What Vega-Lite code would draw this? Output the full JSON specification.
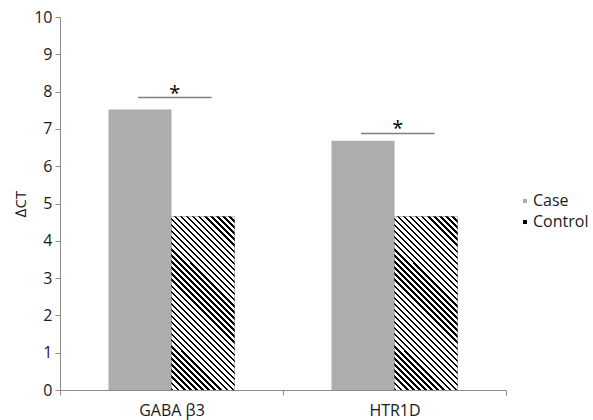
{
  "$schema": "https://vega.github.io/schema/vega-lite/v6.json",
  "width": 446,
  "height": 373,
  "autosize": {"type": "none"},
  "padding": {"left": 60, "top": 17, "right": 87, "bottom": 30},
  "background": "white",
  "config": {
    "view": {"stroke": null},
    "font": "Open Sans",
    "axis": {"grid": false, "domainColor": "#8c8c8c", "tickColor": "#8c8c8c", "labelColor": "#1a1a1a", "labelFont": "Open Sans", "labelFontSize": 16, "titleFont": "Open Sans", "titleFontWeight": "normal", "titleColor": "#1a1a1a", "tickSize": 5},
    "axisX": {"labelAngle": 0, "tickBand": "extent", "labelPadding": 7, "domainWidth": 1.2, "title": null},
    "axisY": {"tickCount": 10, "labelPadding": 3, "titleFontSize": 15, "titlePadding": 5, "labelOverlap": false},
    "legend": {"orient": "none", "legendX": 457, "legendY": 176, "symbolType": "square", "symbolSize": 16, "symbolStrokeWidth": 0, "labelFontSize": 16, "labelColor": "#1a1a1a", "labelOffset": 0, "rowPadding": 5, "padding": 0, "labelFont": "Open Sans"}
  },
  "datasets": {
    "bars": [
      {"gene": "GABA β3", "group": "Case", "dct": 7.52},
      {"gene": "GABA β3", "group": "Control", "dct": 4.65},
      {"gene": "HTR1D", "group": "Case", "dct": 6.68},
      {"gene": "HTR1D", "group": "Control", "dct": 4.65}
    ],
    "sig": [
      {"gene": "GABA β3", "dct": 7.84, "label": "*"},
      {"gene": "HTR1D", "dct": 6.88, "label": "*"}
    ]
  },
  "layer": [
    {
      "data": {"name": "bars"},
      "mark": {"type": "bar"},
      "encoding": {
        "x": {"field": "gene", "type": "nominal", "sort": null, "title": null,
              "scale": {"domain": ["GABA β3", "HTR1D"], "paddingInner": 0, "paddingOuter": 0}},
        "xOffset": {"field": "group", "type": "nominal",
                    "scale": {"domain": ["Case", "Control"], "paddingInner": 0, "paddingOuter": 0.77}},
        "y": {"field": "dct", "type": "quantitative", "title": "∆CT",
              "scale": {"domain": [0, 10], "nice": false}},
        "fill": {"field": "group", "type": "nominal",
                 "scale": {"domain": ["Case", "Control"], "range": ["#adadad", "#000000"]},
                 "legend": {"title": null}}
      }
    },
    {
      "data": {"name": "bars"},
      "transform": [{"filter": "datum.group === 'Control'"}],
      "mark": {"type": "bar", "fill": {"gradient": "linear", "x1": 0, "y1": 1, "x2": 0.4375, "y2": -0.2043, "stops": [
        {"offset":0,"color":"#000"},{"offset":0.01026,"color":"#000"},{"offset":0.01026,"color":"#fff"},{"offset":0.02564,"color":"#fff"},
        {"offset":0.02564,"color":"#000"},{"offset":0.0359,"color":"#000"},{"offset":0.0359,"color":"#fff"},{"offset":0.05128,"color":"#fff"},
        {"offset":0.05128,"color":"#000"},{"offset":0.06154,"color":"#000"},{"offset":0.06154,"color":"#fff"},{"offset":0.07692,"color":"#fff"},
        {"offset":0.07692,"color":"#000"},{"offset":0.08718,"color":"#000"},{"offset":0.08718,"color":"#fff"},{"offset":0.10256,"color":"#fff"},
        {"offset":0.10256,"color":"#000"},{"offset":0.11282,"color":"#000"},{"offset":0.11282,"color":"#fff"},{"offset":0.12821,"color":"#fff"},
        {"offset":0.12821,"color":"#000"},{"offset":0.13846,"color":"#000"},{"offset":0.13846,"color":"#fff"},{"offset":0.15385,"color":"#fff"},
        {"offset":0.15385,"color":"#000"},{"offset":0.1641,"color":"#000"},{"offset":0.1641,"color":"#fff"},{"offset":0.17949,"color":"#fff"},
        {"offset":0.17949,"color":"#000"},{"offset":0.18974,"color":"#000"},{"offset":0.18974,"color":"#fff"},{"offset":0.20513,"color":"#fff"},
        {"offset":0.20513,"color":"#000"},{"offset":0.21538,"color":"#000"},{"offset":0.21538,"color":"#fff"},{"offset":0.23077,"color":"#fff"},
        {"offset":0.23077,"color":"#000"},{"offset":0.24103,"color":"#000"},{"offset":0.24103,"color":"#fff"},{"offset":0.25641,"color":"#fff"},
        {"offset":0.25641,"color":"#000"},{"offset":0.26667,"color":"#000"},{"offset":0.26667,"color":"#fff"},{"offset":0.28205,"color":"#fff"},
        {"offset":0.28205,"color":"#000"},{"offset":0.29231,"color":"#000"},{"offset":0.29231,"color":"#fff"},{"offset":0.30769,"color":"#fff"},
        {"offset":0.30769,"color":"#000"},{"offset":0.31795,"color":"#000"},{"offset":0.31795,"color":"#fff"},{"offset":0.33333,"color":"#fff"},
        {"offset":0.33333,"color":"#000"},{"offset":0.34359,"color":"#000"},{"offset":0.34359,"color":"#fff"},{"offset":0.35897,"color":"#fff"},
        {"offset":0.35897,"color":"#000"},{"offset":0.36923,"color":"#000"},{"offset":0.36923,"color":"#fff"},{"offset":0.38462,"color":"#fff"},
        {"offset":0.38462,"color":"#000"},{"offset":0.39487,"color":"#000"},{"offset":0.39487,"color":"#fff"},{"offset":0.41026,"color":"#fff"},
        {"offset":0.41026,"color":"#000"},{"offset":0.42051,"color":"#000"},{"offset":0.42051,"color":"#fff"},{"offset":0.4359,"color":"#fff"},
        {"offset":0.4359,"color":"#000"},{"offset":0.44615,"color":"#000"},{"offset":0.44615,"color":"#fff"},{"offset":0.46154,"color":"#fff"},
        {"offset":0.46154,"color":"#000"},{"offset":0.4718,"color":"#000"},{"offset":0.4718,"color":"#fff"},{"offset":0.48718,"color":"#fff"},
        {"offset":0.48718,"color":"#000"},{"offset":0.49744,"color":"#000"},{"offset":0.49744,"color":"#fff"},{"offset":0.51282,"color":"#fff"},
        {"offset":0.51282,"color":"#000"},{"offset":0.52308,"color":"#000"},{"offset":0.52308,"color":"#fff"},{"offset":0.53846,"color":"#fff"},
        {"offset":0.53846,"color":"#000"},{"offset":0.54872,"color":"#000"},{"offset":0.54872,"color":"#fff"},{"offset":0.5641,"color":"#fff"},
        {"offset":0.5641,"color":"#000"},{"offset":0.57436,"color":"#000"},{"offset":0.57436,"color":"#fff"},{"offset":0.58974,"color":"#fff"},
        {"offset":0.58974,"color":"#000"},{"offset":0.6,"color":"#000"},{"offset":0.6,"color":"#fff"},{"offset":0.61538,"color":"#fff"},
        {"offset":0.61538,"color":"#000"},{"offset":0.62564,"color":"#000"},{"offset":0.62564,"color":"#fff"},{"offset":0.64103,"color":"#fff"},
        {"offset":0.64103,"color":"#000"},{"offset":0.65128,"color":"#000"},{"offset":0.65128,"color":"#fff"},{"offset":0.66667,"color":"#fff"},
        {"offset":0.66667,"color":"#000"},{"offset":0.67692,"color":"#000"},{"offset":0.67692,"color":"#fff"},{"offset":0.69231,"color":"#fff"},
        {"offset":0.69231,"color":"#000"},{"offset":0.70256,"color":"#000"},{"offset":0.70256,"color":"#fff"},{"offset":0.71795,"color":"#fff"},
        {"offset":0.71795,"color":"#000"},{"offset":0.72821,"color":"#000"},{"offset":0.72821,"color":"#fff"},{"offset":0.74359,"color":"#fff"},
        {"offset":0.74359,"color":"#000"},{"offset":0.75385,"color":"#000"},{"offset":0.75385,"color":"#fff"},{"offset":0.76923,"color":"#fff"},
        {"offset":0.76923,"color":"#000"},{"offset":0.77949,"color":"#000"},{"offset":0.77949,"color":"#fff"},{"offset":0.79487,"color":"#fff"},
        {"offset":0.79487,"color":"#000"},{"offset":0.80513,"color":"#000"},{"offset":0.80513,"color":"#fff"},{"offset":0.82051,"color":"#fff"},
        {"offset":0.82051,"color":"#000"},{"offset":0.83077,"color":"#000"},{"offset":0.83077,"color":"#fff"},{"offset":0.84615,"color":"#fff"},
        {"offset":0.84615,"color":"#000"},{"offset":0.85641,"color":"#000"},{"offset":0.85641,"color":"#fff"},{"offset":0.87179,"color":"#fff"},
        {"offset":0.87179,"color":"#000"},{"offset":0.88205,"color":"#000"},{"offset":0.88205,"color":"#fff"},{"offset":0.89744,"color":"#fff"},
        {"offset":0.89744,"color":"#000"},{"offset":0.90769,"color":"#000"},{"offset":0.90769,"color":"#fff"},{"offset":0.92308,"color":"#fff"},
        {"offset":0.92308,"color":"#000"},{"offset":0.93333,"color":"#000"},{"offset":0.93333,"color":"#fff"},{"offset":0.94872,"color":"#fff"},
        {"offset":0.94872,"color":"#000"},{"offset":0.95897,"color":"#000"},{"offset":0.95897,"color":"#fff"},{"offset":0.97436,"color":"#fff"},
        {"offset":0.97436,"color":"#000"},{"offset":0.98462,"color":"#000"},{"offset":0.98462,"color":"#fff"},{"offset":1,"color":"#fff"}
      ]}},
      "encoding": {
        "x": {"field": "gene", "type": "nominal", "sort": null, "title": null},
        "xOffset": {"field": "group", "type": "nominal"},
        "y": {"field": "dct", "type": "quantitative", "title": "∆CT"}
      }
    },
    {
      "data": {"name": "sig"},
      "mark": {"type": "rule", "color": "#7f7f7f", "strokeWidth": 1.5},
      "encoding": {
        "x": {"field": "gene", "type": "nominal", "sort": null, "title": null, "bandPosition": 0.35},
        "x2": {"field": "gene", "bandPosition": 0.68},
        "y": {"field": "dct", "type": "quantitative", "title": "∆CT"}
      }
    },
    {
      "data": {"name": "sig"},
      "mark": {"type": "text", "fontSize": 20, "color": "#000", "baseline": "alphabetic", "dy": 2},
      "encoding": {
        "x": {"field": "gene", "type": "nominal", "sort": null, "title": null, "bandPosition": 0.515},
        "y": {"field": "dct", "type": "quantitative", "title": "∆CT"},
        "text": {"field": "label"}
      }
    }
  ]
}
